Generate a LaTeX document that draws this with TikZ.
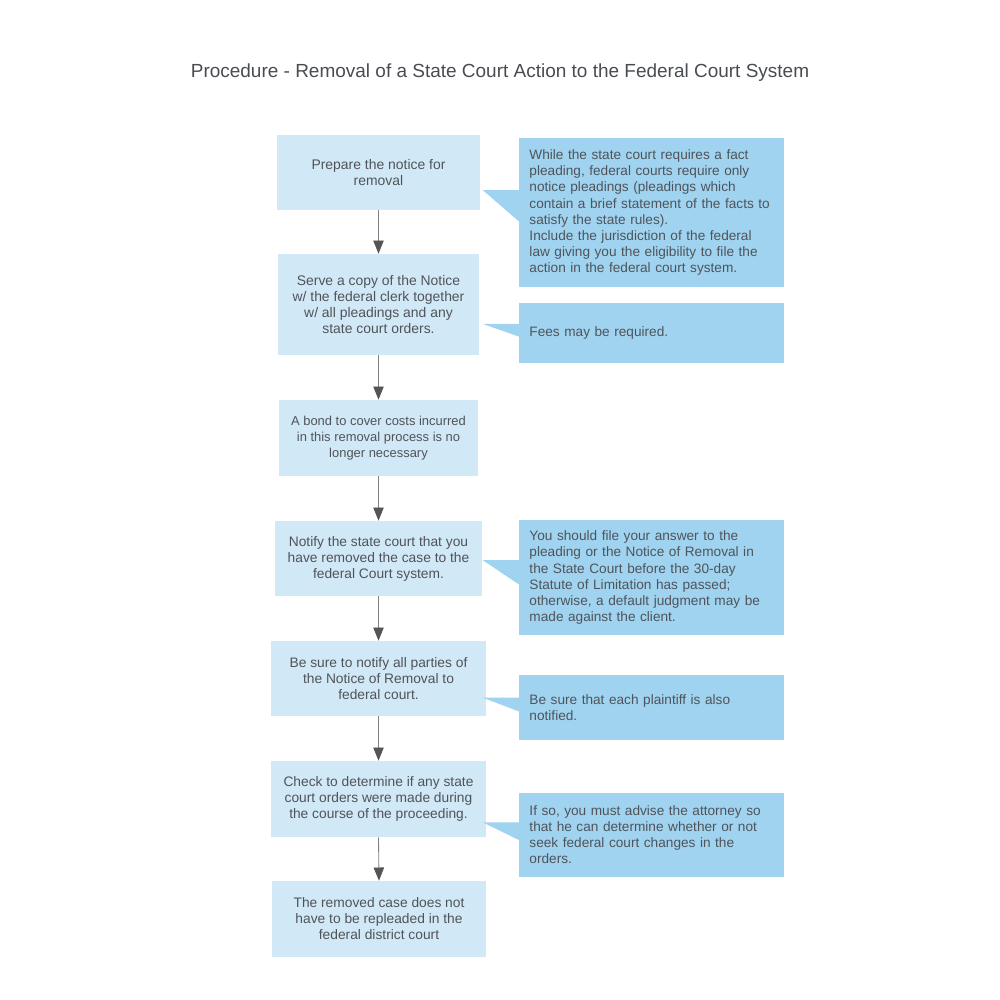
\documentclass[tikz,border=0pt]{standalone}
\usepackage{fontspec}
\setmainfont{Liberation Sans}
\usepackage{xcolor}
\usetikzlibrary{
    positioning,
    arrows.meta,
    calc,
}
\definecolor{stepfill}{RGB}{209,232,246}
\definecolor{notefill}{RGB}{159,211,240}
\definecolor{textgray}{RGB}{80,84,90}
\definecolor{linegray}{RGB}{128,128,128}
\definecolor{headgray}{RGB}{85,85,85}
\tikzset{
    % Step and note styles
    stepbox/.style={rectangle, fill=stepfill, inner sep=0pt, align=center,
                    text=textgray, font=\fontsize{9.8}{11.4}\selectfont},
    notebox/.style={rectangle, fill=notefill, inner sep=0pt, align=left,
                    text width=6.1cm, minimum width=6.625cm, text=textgray,
                    font=\fontsize{9.7}{11.4}\selectfont},
    % Arrow style
    arrow/.style={-{Triangle[length=3.3mm, width=2.6mm, color=headgray]},
                  draw=linegray, line width=0.6pt},
}

\begin{document}
\begin{tikzpicture}[x=0.025cm, y=-0.025cm]
    \useasboundingbox (0,0) rectangle (1000,1000);

    % Title
    \node[text=textgray!90!black, font=\fontsize{13.5}{16}\selectfont] (title) at (500, 73)
        {Procedure - Removal of a State Court Action to the Federal Court System};

    % Steps
    \node[stepbox, font=\fontsize{9.9}{11.4}\selectfont, minimum width=5.075cm, minimum height=1.875cm] (s1) at (378.5, 172.5)
        {Prepare the notice for\\removal};
    \node[stepbox, font=\fontsize{9.9}{11.4}\selectfont, minimum width=5.025cm, minimum height=2.525cm] (s2) at (378.5, 304.5)
        {Serve a copy of the Notice\\w/ the federal clerk together\\w/ all pleadings and any\\state court orders.};
    \node[stepbox, font=\fontsize{9.2}{11.4}\selectfont, minimum width=4.975cm, minimum height=1.9cm] (s3) at (378.5, 438)
        {A bond to cover costs incurred\\in this removal process is no\\longer necessary};
    \node[stepbox, minimum width=5.175cm, minimum height=1.875cm] (s4) at (378.5, 558.5)
        {Notify the state court that you\\have removed the case to the\\federal Court system.};
    \node[stepbox, minimum width=5.375cm, minimum height=1.875cm] (s5) at (378.5, 678.5)
        {Be sure to notify all parties of\\the Notice of Removal to\\federal court.};
    \node[stepbox, minimum width=5.375cm, minimum height=1.9cm] (s6) at (378.5, 799)
        {Check to determine if any state\\court orders were made during\\the course of the proceeding.};
    \node[stepbox, minimum width=5.35cm, minimum height=1.9cm] (s7) at (379, 919)
        {The removed case does not\\have to be repleaded in the\\federal district court};

    \draw[arrow] (s1.south) -- (s2.north);
    \draw[arrow] (s2.south) -- (s3.north);
    \draw[arrow] (s3.south) -- (s4.north);
    \draw[arrow] (s4.south) -- (s5.north);
    \draw[arrow] (s5.south) -- (s6.north);
    \draw[arrow] (s6.south) -- (s7.north);

    % Notes
    \node[notebox, minimum height=3.725cm] (n1) at (651.5, 212.5)
        {While the state court requires a fact\\pleading, federal courts require only\\notice pleadings (pleadings which\\contain a brief statement of the facts to\\satisfy the state rules).\\Include the jurisdiction of the federal\\law giving you the eligibility to file the\\action in the federal court system.};
    \node[notebox, minimum height=1.5cm] (n2) at (651.5, 333)
        {Fees may be required.};
    \node[notebox, minimum height=2.875cm] (n3) at (651.5, 577.5)
        {You should file your answer to the\\pleading or the Notice of Removal in\\the State Court before the 30-day\\Statute of Limitation has passed;\\otherwise, a default judgment may be\\made against the client.};
    \node[notebox, minimum height=1.625cm] (n4) at (651.5, 707.5)
        {Be sure that each plaintiff is also\\notified.};
    \node[notebox, minimum height=2.1cm] (n5) at (651.5, 835)
        {If so, you must advise the attorney so\\that he can determine whether or not\\seek federal court changes in the\\orders.};

    % Note tails
    \foreach \n in {n1,n2,n3,n4,n5}
        \fill[notefill] ($(\n.north west)!0.35!(\n.south west)+(2,0)$) -- ++(-38,0)
            -- ($(\n.north west)!0.57!(\n.south west)+(2,0)$) -- cycle;
\end{tikzpicture}
\end{document}
